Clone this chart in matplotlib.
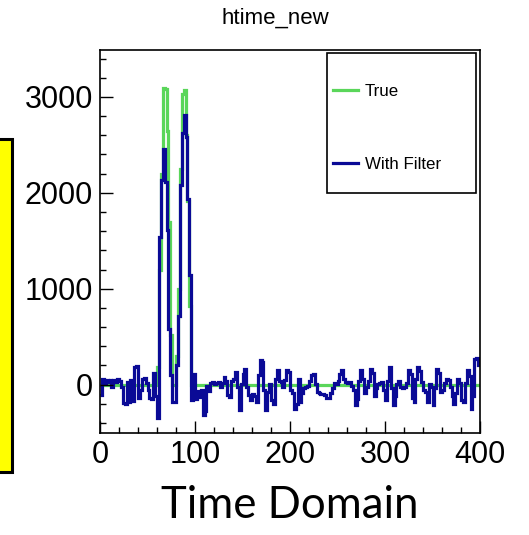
import matplotlib
matplotlib.use("Agg")
import matplotlib.pyplot as plt
import numpy as np
from matplotlib.patches import Rectangle
from matplotlib.ticker import MultipleLocator

# bin edges 0..400, width 2
bin_edges = np.arange(0, 402, 2)

# "True" signal: zero apart from the two peaks (bins 30-48)
true_peak_start = 30
true_peak = [180, 1200, 2200, 3090, 3080, 2650, 1700, 520, 0, 0,
             300, 1000, 2250, 3030, 3070, 2600, 1920, 820, 0]

# "With Filter" signal, one value per bin
filtered = [
    -110, 60, 20, 50, 30, 45, -20, 50, 30, 60,
    40, -30, -190, -200, 30, -180, 50, -170, 180, 190,
    -140, -60, 60, 70, 20, -60, -140, -150, 120, -120,
    -350, 1540, 2130, 2460, 2110, 1610, 580, 100, -180, -180,
    200, 720, 2080, 2620, 2810, 2580, 1940, 1140, -160, 110,
    -150, -70, -130, -60, -320, -280, -10, -70, 20, 30,
    10, 20, 30, -20, 20, 80, 40, -110, -130, 40,
    60, 130, -20, -270, 10, 110, 165, -20, -110, -160,
    -100, -120, -180, 100, 255, 240, -60, -270, -80, 10,
    -160, -200, 60, 150, 40, 30, -20, 50, 150, 130,
    -60, -90, -250, -200, 60, -180, -90, -40, -20, -10,
    40, 100, 110, 10, -80, -90, -100, -100, -110, -140,
    -140, -90, -40, 20, 10, 40, 110, 150, 60, 30,
    20, 30, -10, -60, -215, -150, 40, 150, 60, -90,
    -20, 40, 165, 120, -120, -40, 10, 20, 30, -60,
    -160, 40, 185, -40, -215, -120, 10, 40, -30, -40,
    -20, 20, 150, 110, -140, -180, 60, 185, 140, 30,
    -60, -80, -180, 10, -20, -215, -40, 165, 120, -80,
    -60, 20, 60, 50, -20, -120, -200, -90, 60, 20,
    -160, -180, 20, 150, 90, -250, -120, 270, 280, 200,
]

true_vals = np.zeros(len(bin_edges) - 1)
true_vals[true_peak_start:true_peak_start + len(true_peak)] = true_peak

fig = plt.figure(figsize=(5.29, 5.35), dpi=100)
ax = fig.add_axes([100 / 529, 1 - 433 / 535, 380 / 529, 383 / 535])

ax.stairs(true_vals, bin_edges, baseline=None, color="#5ad65a", linewidth=2.3, label="True")
ax.stairs(filtered, bin_edges, baseline=None, color="#0a0a96", linewidth=2.3, label="With Filter")

ax.set_xlim(0, 400)
ax.set_ylim(-505, 3490)

ax.xaxis.set_major_locator(MultipleLocator(100))
ax.xaxis.set_minor_locator(MultipleLocator(20))
ax.yaxis.set_major_locator(MultipleLocator(1000))
ax.yaxis.set_minor_locator(MultipleLocator(200))

ax.tick_params(which="both", direction="in", top=False, right=False, width=1.0, color="black")
ax.tick_params(which="major", length=9, pad=5, labelsize=22)
ax.tick_params(which="minor", length=4.5)
for lab in ax.get_xticklabels() + ax.get_yticklabels():
    lab.set_family("Liberation Sans")
for sp in ax.spines.values():
    sp.set_linewidth(1.2)

# legend box (ROOT TLegend style): pixels x 327-476, y 53-193
ax.add_patch(Rectangle((227 / 380, 240 / 383), 149 / 380, 140 / 383,
                       transform=ax.transAxes, facecolor="white",
                       edgecolor="black", linewidth=1.2, zorder=4))
leg = ax.legend(loc="upper left", bbox_to_anchor=(233 / 380, (433 - 84) / 383),
                frameon=False, borderpad=0, labelspacing=3.4,
                handlelength=1.5, handletextpad=0.38, borderaxespad=0,
                prop={"family": "Liberation Sans", "size": 12.2})
leg.set_zorder(5)

fig.text(275 / 529, 1 - 18 / 535, "htime_new", ha="center", va="center",
         fontsize=16, family="Liberation Sans")
fig.text(290 / 529, 1 - 505 / 535, "Time Domain", ha="center", va="center",
         fontsize=31.5, family="Lato")

# yellow box cut off at the left edge
fig.patches.append(Rectangle((-0.05, 1 - 471.5 / 535), 0.05 + 11.5 / 529, 333 / 535,
                             transform=fig.transFigure, facecolor="#ffff00",
                             edgecolor="black", linewidth=2.2, clip_on=False))

fig.savefig("out.png", dpi=100)
